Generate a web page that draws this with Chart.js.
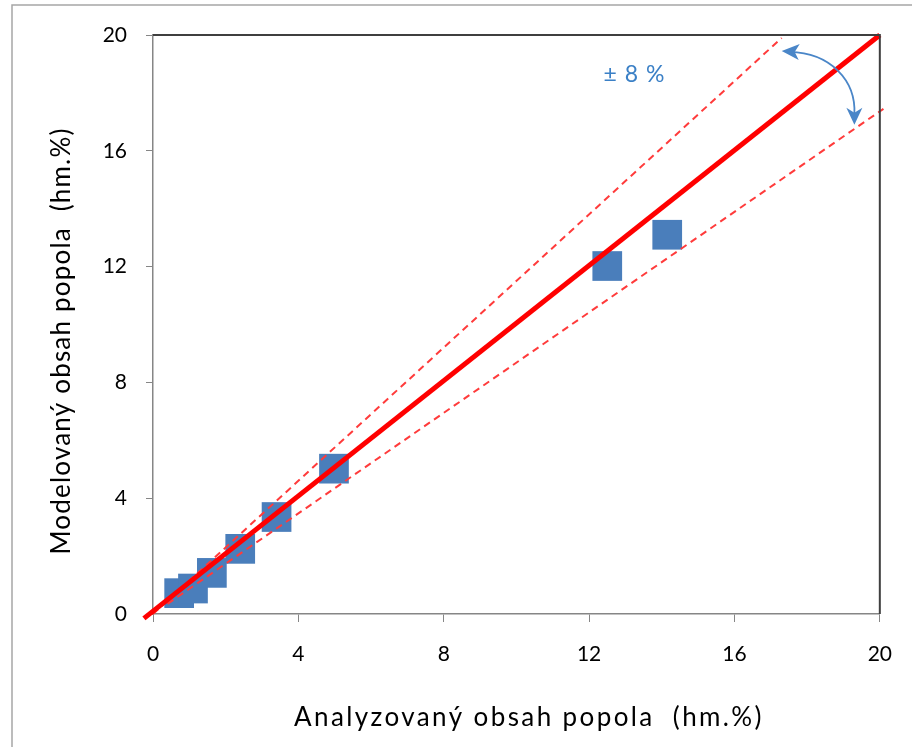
<!DOCTYPE html>
<html>
<head>
<meta charset="utf-8">
<script src="https://cdn.jsdelivr.net/npm/chart.js@4.4.1/dist/chart.umd.min.js"></script>
<style>
    html, body { margin: 0; padding: 0; background: #fff; }
    #wrap { width: 912px; height: 747px; }
</style>
</head>
<body>
<div id="wrap"><canvas id="chart" width="912" height="747"></canvas></div>
<script>
// Data
const analyzed = [0.72, 1.1, 1.62, 2.4, 3.4, 4.98, 12.5, 14.15];
const modeled = [0.72, 0.88, 1.42, 2.25, 3.35, 5.02, 12.02, 13.1];

// 1:1 line and the +/- band
const idealX = [-0.25, 20];
const idealY = [-0.15, 20];
const upperX = [0, 17.3];
const upperY = [0, 19.9];
const lowerX = [0.4, 20.1];
const lowerY = [0.35, 17.45];

const tickValues = [0, 4, 8, 12, 16, 20];
const xTitle = 'Analyzovaný obsah popola  (hm.%)';
const yTitle = 'Modelovaný obsah popola  (hm.%)';
const bandLabel = '± 8 %';

const FONT = 'Lato, "Open Sans", sans-serif';

const toPoints = (xs, ys) => xs.map((x, i) => ({ x: x, y: ys[i] }));

// Frame, box border, titles and the curved arrow
const decorations = {
    id: 'decorations',
    beforeDraw(chart) {
        const ctx = chart.ctx;
        ctx.save();
        ctx.fillStyle = '#fff';
        ctx.fillRect(0, 0, chart.width, chart.height);
        ctx.strokeStyle = '#a6a6a6';
        ctx.lineWidth = 1.5;
        ctx.beginPath();
        ctx.moveTo(12, chart.height + 2);
        ctx.lineTo(12, 5);
        ctx.lineTo(chart.width + 2, 5);
        ctx.stroke();
        ctx.restore();
    },
    afterDatasetsDraw(chart) {
        const ctx = chart.ctx;
        const a = chart.chartArea;
        const xs = chart.scales.x, ys = chart.scales.y;
        ctx.save();

        // top and right box lines
        ctx.strokeStyle = '#3f3f3f';
        ctx.lineWidth = 2;
        ctx.beginPath();
        ctx.moveTo(a.left, a.top);
        ctx.lineTo(a.right, a.top);
        ctx.lineTo(a.right, a.bottom);
        ctx.stroke();

        // axis titles
        ctx.fillStyle = '#000';
        ctx.font = '26px ' + FONT;
        ctx.textAlign = 'center';
        ctx.textBaseline = 'middle';
        ctx.letterSpacing = '2.4px';
        ctx.fillText(xTitle, 529, 718);
        ctx.letterSpacing = '1.2px';
        ctx.translate(62, 341);
        ctx.rotate(-Math.PI / 2);
        ctx.fillText(yTitle, 0, 0);
        ctx.setTransform(1, 0, 0, 1, 0, 0);

        // band label
        ctx.fillStyle = '#3b80c6';
        ctx.font = '23px ' + FONT;
        ctx.letterSpacing = '1px';
        ctx.fillText(bandLabel, xs.getPixelForValue(13.25), ys.getPixelForValue(18.65));
        ctx.letterSpacing = '0px';

        // curved double arrow
        const p0 = { x: xs.getPixelForValue(17.3), y: ys.getPixelForValue(19.45) };
        const p3 = { x: xs.getPixelForValue(19.3), y: ys.getPixelForValue(16.9) };
        ctx.strokeStyle = '#4a86c8';
        ctx.fillStyle = '#4a86c8';
        ctx.lineWidth = 1.8;
        ctx.beginPath();
        ctx.moveTo(p0.x + 8, p0.y + 1);
        ctx.bezierCurveTo(p0.x + 48, p0.y + 2, p3.x + 2, p3.y - 45, p3.x, p3.y - 10);
        ctx.stroke();
        ctx.beginPath();
        ctx.moveTo(p0.x, p0.y);
        ctx.lineTo(p0.x + 18, p0.y - 7);
        ctx.lineTo(p0.x + 13, p0.y + 1);
        ctx.lineTo(p0.x + 17, p0.y + 9);
        ctx.closePath();
        ctx.fill();
        ctx.beginPath();
        ctx.moveTo(p3.x, p3.y);
        ctx.lineTo(p3.x - 8, p3.y - 17);
        ctx.lineTo(p3.x, p3.y - 12);
        ctx.lineTo(p3.x + 8, p3.y - 17);
        ctx.closePath();
        ctx.fill();

        ctx.restore();
    }
};

new Chart(document.getElementById('chart'), {
    type: 'scatter',
    data: {
        datasets: [{
            label: 'Body',
            data: toPoints(analyzed, modeled),
            pointStyle: 'rect',
            pointRadius: 21,
            pointHoverRadius: 21,
            backgroundColor: '#4a7ebb',
            borderColor: '#4a7ebb',
            borderWidth: 0,
            order: 3
        }, {
            label: 'Horná hranica',
            data: toPoints(upperX, upperY),
            showLine: true,
            borderColor: '#ff3b3b',
            borderWidth: 2,
            borderDash: [7, 5],
            pointRadius: 0,
            order: 2
        }, {
            label: 'Dolná hranica',
            data: toPoints(lowerX, lowerY),
            showLine: true,
            borderColor: '#ff3b3b',
            borderWidth: 2,
            borderDash: [7, 5],
            pointRadius: 0,
            order: 2
        }, {
            label: '1:1',
            data: toPoints(idealX, idealY),
            showLine: true,
            borderColor: '#ff0000',
            borderWidth: 5,
            pointRadius: 0,
            order: 1
        }]
    },
    options: {
        responsive: false,
        animation: false,
        devicePixelRatio: 1,
        clip: false,
        layout: { padding: { top: 35, right: 31, left: 0, bottom: 0 } },
        plugins: {
            legend: { display: false },
            tooltip: { enabled: false }
        },
        scales: {
            x: {
                type: 'linear',
                min: 0,
                max: 20,
                afterFit: (scale) => { scale.height = 133; },
                afterBuildTicks: (scale) => { scale.ticks = tickValues.map(v => ({ value: v })); },
                grid: { drawOnChartArea: false, color: '#868686', tickLength: 8 },
                border: { color: '#868686', width: 1.5 },
                ticks: { color: '#000', padding: 20, font: { family: FONT, size: 21 } }
            },
            y: {
                type: 'linear',
                min: 0,
                max: 20,
                afterFit: (scale) => { scale.width = 153; },
                afterBuildTicks: (scale) => { scale.ticks = tickValues.map(v => ({ value: v })); },
                grid: { drawOnChartArea: false, color: '#868686', tickLength: 7 },
                border: { color: '#868686', width: 1.5 },
                ticks: { color: '#000', padding: 19, font: { family: FONT, size: 21 } }
            }
        }
    },
    plugins: [decorations]
});
</script>
</body>
</html>
